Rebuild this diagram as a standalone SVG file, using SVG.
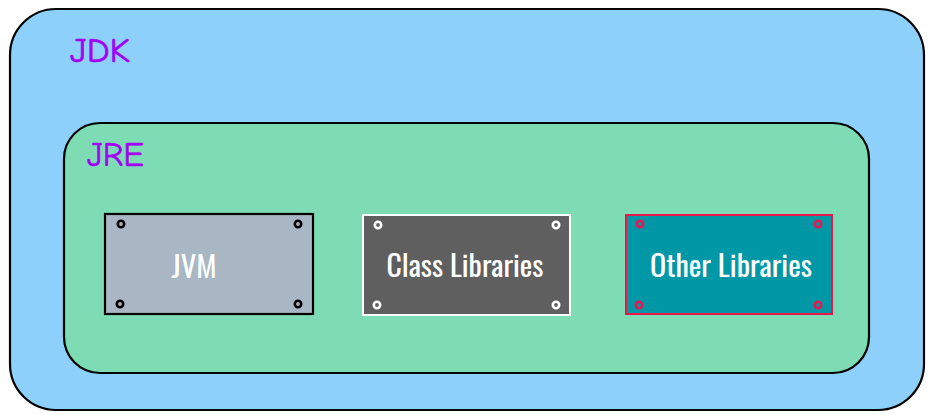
<svg xmlns="http://www.w3.org/2000/svg" width="933" height="419" viewBox="0 0 933 419">
<style>
.frame{stroke:#000;stroke-width:2.2;stroke-linejoin:round}
.lbl{font-family:"Comic Neue","Comic Sans MS","DejaVu Sans",sans-serif;font-size:34px;fill:#a200f5;stroke:#a200f5;stroke-width:0.6}
.box{font-family:"Oswald","Liberation Sans Narrow","DejaVu Sans Condensed","Roboto Condensed",sans-serif;font-size:28px;fill:#fff;text-anchor:middle}
.screw{fill:none;stroke-width:2.6}
</style>
<rect width="933" height="419" fill="#fff"/>
<g id="jdk">
<rect class="frame" x="10" y="9" width="914" height="401" rx="46" ry="46" fill="#8dd0fb"/>
<text class="lbl" x="70" y="62" textLength="60" lengthAdjust="spacingAndGlyphs">JDK</text>
</g>
<g id="jre">
<rect class="frame" x="64" y="123" width="805" height="250" rx="36" ry="36" fill="#7ddcb4"/>
<text class="lbl" x="87" y="166" textLength="57" lengthAdjust="spacingAndGlyphs">JRE</text>
</g>
<g id="jvm">
<rect x="105" y="214" width="208" height="100" fill="#a9b6c3" stroke="#000" stroke-width="2.2"/>
<g class="screw" stroke="#000">
<circle cx="121" cy="224" r="3.2"/><circle cx="298" cy="224" r="3.2"/>
<circle cx="120" cy="304" r="3.2"/><circle cx="298" cy="304" r="3.2"/>
</g>
<text class="box" x="194" y="278" textLength="45" lengthAdjust="spacingAndGlyphs">JVM</text>
</g>
<g id="class-libraries">
<rect x="363" y="215" width="207" height="100" fill="#5f5f5f" stroke="#fff" stroke-width="2"/>
<g class="screw" stroke="#fff">
<circle cx="378" cy="225" r="3.2"/><circle cx="556" cy="225" r="3.2"/>
<circle cx="377" cy="305" r="3.2"/><circle cx="556" cy="305" r="3.2"/>
</g>
<text class="box" x="465" y="277" textLength="157" lengthAdjust="spacingAndGlyphs">Class Libraries</text>
</g>
<g id="other-libraries">
<rect x="626" y="215" width="206" height="99" fill="#0097a7" stroke="#e8184f" stroke-width="2"/>
<g class="screw" stroke="#e8184f">
<circle cx="640" cy="224" r="3.2"/><circle cx="818" cy="224" r="3.2"/>
<circle cx="639" cy="305" r="3.2"/><circle cx="818" cy="305" r="3.2"/>
</g>
<text class="box" x="731" y="277" textLength="162" lengthAdjust="spacingAndGlyphs">Other Libraries</text>
</g>
<g id="connectors"></g>
</svg>
